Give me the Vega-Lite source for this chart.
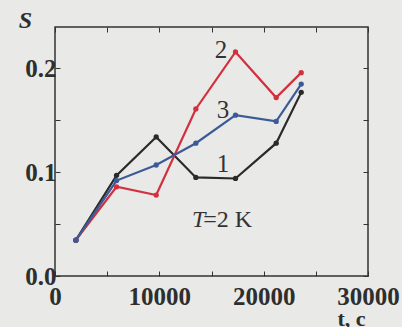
{
  "$schema": "https://vega.github.io/schema/vega-lite/v6.json",
  "width": 313,
  "height": 249,
  "autosize": "none",
  "padding": {"left": 55, "top": 27, "right": 34, "bottom": 51},
  "background": "#e9e9e7",
  "config": {
    "view": {"stroke": "#333333", "strokeWidth": 1.5},
    "axis": {
      "domain": false,
      "grid": false,
      "tickSize": -5,
      "tickColor": "#333333",
      "tickWidth": 1,
      "labelFont": "Liberation Serif",
      "labelFontSize": 25,
      "labelFontWeight": "bold",
      "labelColor": "#2e2e2e",
      "titleFont": "Liberation Serif",
      "titleFontSize": 24,
      "titleColor": "#2e2e2e"
    }
  },
  "datasets": {
    "curves": [
      {"curve": "1", "t": 2000, "S": 0.0345},
      {"curve": "1", "t": 5900, "S": 0.097},
      {"curve": "1", "t": 9700, "S": 0.134},
      {"curve": "1", "t": 13500, "S": 0.095},
      {"curve": "1", "t": 17300, "S": 0.094},
      {"curve": "1", "t": 21200, "S": 0.128},
      {"curve": "1", "t": 23600, "S": 0.177},
      {"curve": "2", "t": 2000, "S": 0.0345},
      {"curve": "2", "t": 5900, "S": 0.086},
      {"curve": "2", "t": 9700, "S": 0.078},
      {"curve": "2", "t": 13500, "S": 0.161},
      {"curve": "2", "t": 17300, "S": 0.216},
      {"curve": "2", "t": 21200, "S": 0.172},
      {"curve": "2", "t": 23600, "S": 0.196},
      {"curve": "3", "t": 2000, "S": 0.0345},
      {"curve": "3", "t": 5900, "S": 0.092},
      {"curve": "3", "t": 9700, "S": 0.107},
      {"curve": "3", "t": 13500, "S": 0.128},
      {"curve": "3", "t": 17300, "S": 0.155},
      {"curve": "3", "t": 21200, "S": 0.149},
      {"curve": "3", "t": 23600, "S": 0.185}
    ],
    "labels": [
      {"label": "1", "t": 16100, "S": 0.108},
      {"label": "2", "t": 15900, "S": 0.218},
      {"label": "3", "t": 16100, "S": 0.160}
    ],
    "tlabel": [
      {"label": "T", "t": 14400, "S": 0.054}
    ],
    "klabel": [
      {"label": "=2 K", "t": 14200, "S": 0.054}
    ]
  },
  "layer": [
    {
      "data": {"name": "curves"},
      "mark": {"type": "line", "strokeWidth": 2.2},
      "encoding": {
        "x": {
          "field": "t", "type": "quantitative",
          "scale": {"domain": [0, 30000], "nice": false},
          "axis": {
            "orient": "bottom",
            "values": [0, 5000, 10000, 15000, 20000, 25000, 30000],
            "labelExpr": "datum.value % 10000 == 0 ? format(datum.value, 'd') : ''",
            "labelPadding": 13,
            "labelFlush": false,
            "title": "t, c",
            "titleX": 296,
            "titleY": 42,
            "titleFontSize": 22,
            "titleAlign": "center",
            "titleBaseline": "middle",
            "titleFontWeight": "bold"
          }
        },
        "y": {
          "field": "S", "type": "quantitative",
          "scale": {"domain": [0, 0.24], "nice": false},
          "axis": {
            "orient": "left",
            "values": [0, 0.05, 0.1, 0.15, 0.2],
            "labelExpr": "round(datum.value * 100) % 10 == 0 ? format(datum.value, '.1f') : ''",
            "labelPadding": 4,
            "labelFlush": false,
            "title": "S",
            "titleAngle": 0,
            "titleX": -30,
            "titleY": -7,
            "titleAlign": "center",
            "titleBaseline": "middle",
            "titleFontStyle": "italic",
            "titleFontWeight": "bold"
          }
        },
        "color": {
          "field": "curve", "type": "nominal",
          "scale": {"domain": ["1", "2", "3"], "range": ["#2a2a2a", "#d2303e", "#3c5a98"]},
          "legend": null
        },
        "order": {"field": "t"}
      }
    },
    {
      "data": {"name": "curves"},
      "mark": {"type": "point", "filled": true, "size": 28, "opacity": 1},
      "encoding": {
        "x": {"field": "t", "type": "quantitative", "axis": null},
        "y": {"field": "S", "type": "quantitative", "axis": null},
        "color": {"field": "curve", "type": "nominal", "legend": null}
      }
    },
    {
      "data": {"name": "labels"},
      "mark": {"type": "text", "font": "Liberation Serif", "fontSize": 25, "color": "#333333", "align": "center", "baseline": "middle"},
      "encoding": {
        "x": {"field": "t", "type": "quantitative", "axis": null},
        "y": {"field": "S", "type": "quantitative", "axis": null},
        "text": {"field": "label"}
      }
    },
    {
      "data": {"name": "tlabel"},
      "mark": {"type": "text", "font": "Liberation Serif", "fontSize": 24, "fontStyle": "italic", "color": "#333333", "align": "right", "baseline": "middle"},
      "encoding": {
        "x": {"field": "t", "type": "quantitative", "axis": null},
        "y": {"field": "S", "type": "quantitative", "axis": null},
        "text": {"field": "label"}
      }
    },
    {
      "data": {"name": "klabel"},
      "mark": {"type": "text", "font": "Liberation Serif", "fontSize": 24, "color": "#333333", "align": "left", "baseline": "middle"},
      "encoding": {
        "x": {"field": "t", "type": "quantitative", "axis": null},
        "y": {"field": "S", "type": "quantitative", "axis": null},
        "text": {"field": "label"}
      }
    },
    {
      "data": {"name": "curves"},
      "mark": {"type": "point", "opacity": 0},
      "encoding": {
        "x": {
          "field": "t", "type": "quantitative",
          "axis": {"orient": "top", "values": [0, 5000, 10000, 15000, 20000, 25000, 30000], "labels": false, "title": null}
        },
        "y": {
          "field": "S", "type": "quantitative",
          "axis": {"orient": "right", "values": [0, 0.05, 0.1, 0.15, 0.2], "labels": false, "title": null}
        }
      }
    }
  ],
  "resolve": {"axis": {"x": "independent", "y": "independent"}}
}
